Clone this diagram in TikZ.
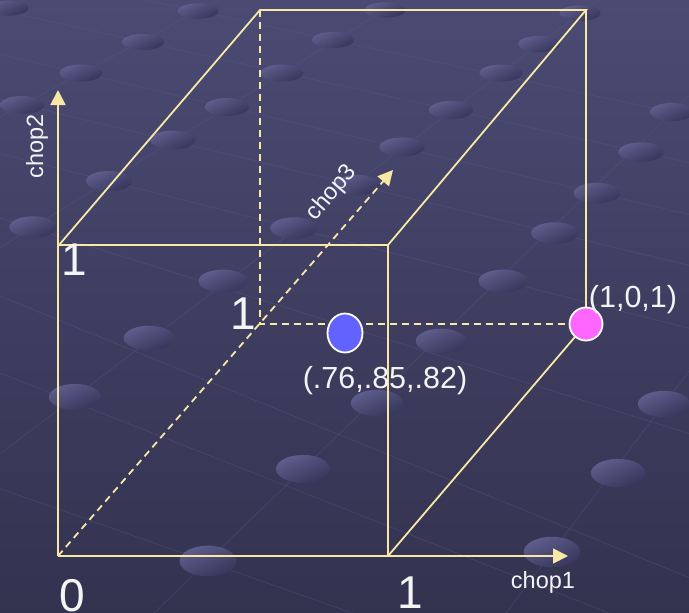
\documentclass[tikz,border=0pt]{standalone}
\usepackage{fontspec}
\setmainfont{Liberation Sans}
\usetikzlibrary{arrows.meta,shapes.geometric}
\definecolor{bgtop}{HTML}{4B4A73}
\definecolor{bgbot}{HTML}{33324F}
\definecolor{cubeline}{HTML}{F7E8A6}
\definecolor{dotblue}{HTML}{6262FF}
\definecolor{dotpink}{HTML}{FF66FF}
\definecolor{txt}{HTML}{F4F4F4}
\definecolor{gridln}{HTML}{5C5B88}
\definecolor{ellhi}{HTML}{5F5E8D}
\definecolor{elllo}{HTML}{36355A}
\begin{document}
\begin{tikzpicture}[x=1pt,y=-1pt,
  edge/.style={draw=cubeline, line width=1.8pt},
  hidden/.style={edge, dash pattern=on 7pt off 5pt},
  axis/.style={edge, -{Triangle[length=15pt,width=15pt]}},
  dashaxis/.style={hidden, -{Triangle[length=15pt,width=15pt]}},
  lbl/.style={text=txt, font=\fontsize{23.5}{27}\selectfont, inner sep=0pt},
  num/.style={text=txt, font=\fontsize{46}{50}\selectfont, inner sep=0pt, anchor=base},
  ptlbl/.style={text=txt, font=\fontsize{30.5}{34}\selectfont, inner sep=0pt, anchor=base},
  bgdot/.style={top color=ellhi, bottom color=elllo, shading angle=25},
  gline/.style={draw=gridln, line width=0.8pt, opacity=0.35},
  dot/.style={draw=white, line width=1.8pt, inner sep=0pt}]
\useasboundingbox (0,0) rectangle (689,613);
\shade[top color=bgtop, bottom color=bgbot] (0,0) rectangle (689,613);
\begin{scope}
\clip (0,0) rectangle (689,613);
% faint perspective grid lines (rows)
\foreach \ax/\ay/\bx/\by in {-10/17/40/-8, -10/122/260/-22, -20/260/420/-12, -20/469/600/-2, 150/617/700/85, 500/621/720/330}
  \draw[gline] (\ax,\ay) -- (\bx,\by);
% faint perspective grid lines (columns)
\foreach \ay/\by in {-33/118, 8/165, 52/217, 97/268, 151/331, 215/437, 292/582, 369/649, 485/736}
  \draw[gline] (-10,\ay) -- (700,\by);
% background dots
\foreach \px/\py in {8/8, 198/11, 385/10, 580/13,
  22/105, 81/73, 143/42, 333/40, 282/73, 227/107, 173/140, 109/181, 33/227,
  539/44, 501/73, 451/110, 402/147, 357/185, 294/228, 223/281,
  672/112, 641/152, 597/193, 555/233, 503/281, 441/341, 377/403, 303/469, 208/561,
  149/338, 75/397, 664/404, 618/473, 552/552} {
  \pgfmathsetmacro\rx{20.5+0.014*\py}
  \pgfmathsetmacro\ry{7.5+0.014*\py}
  \shade[bgdot] (\px,\py) ellipse [x radius=\rx, y radius=\ry];
}
\end{scope}
% cube corners
\coordinate (O) at (58,556);
\coordinate (A) at (388,556);
\coordinate (B) at (388,245);
\coordinate (C) at (59,245);
\coordinate (D) at (260,10);
\coordinate (E) at (586,10);
\coordinate (F) at (586,324);
\coordinate (G) at (260,324);
\coordinate (Y) at (58,90);
\coordinate (X) at (568,556);
\coordinate (Z) at (393,170);
% axes
\draw[axis] (O) -- (Y);
\draw[axis] (O) -- (X);
\draw[dashaxis] (O) -- (Z);
% cube edges
\draw[edge] (C) -- (B) -- (A);
\draw[edge] (C) -- (D) -- (E) -- (B);
\draw[edge] (E) -- (F) -- (A);
\draw[hidden] (D) -- (G) -- (F);
% points
\node[dot, ellipse, fill=dotblue, minimum width=35pt, minimum height=39pt] (blue) at (345,333) {};
\node[dot, circle, fill=dotpink, minimum size=33pt] (pink) at (F) {};
% labels
\node[num] (n0) at (72,611) {0};
\node[num] (n1b) at (410,608) {1};
\node[num] (n1l) at (74,275) {1};
\node[num] (n1m) at (243,329) {1};
\node[lbl, anchor=base] (c1) at (543,588) {chop1};
\node[lbl, rotate=90] (c2) at (37,146) {chop2};
\node[lbl, rotate=49.4] (c3) at (332,193) {chop3};
\node[ptlbl] (p1) at (633,307) {(1,0,1)};
\node[ptlbl] (p2) at (385,388) {(.76,.85,.82)};
\end{tikzpicture}
\end{document}
